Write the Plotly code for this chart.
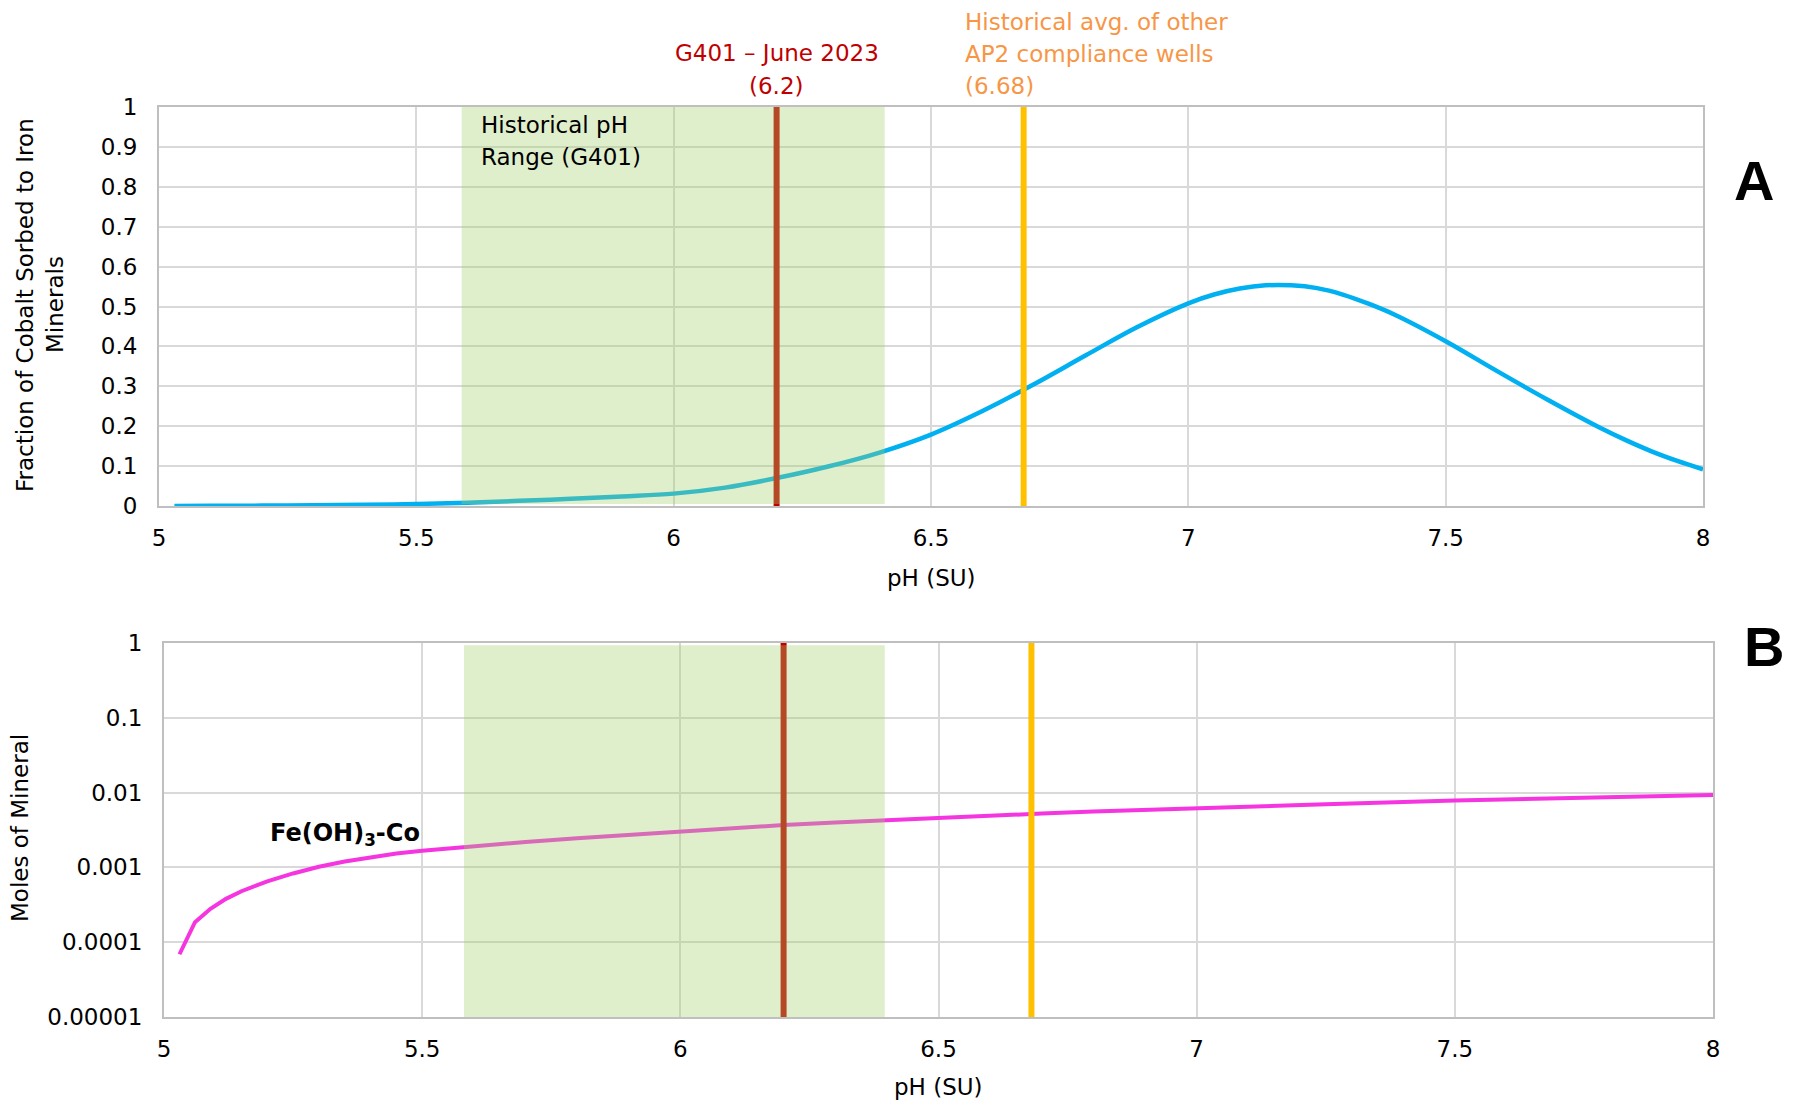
import plotly.graph_objects as go

# ---------------- data ----------------
ph_a = [5.03, 5.1, 5.2, 5.3, 5.4, 5.5, 5.6, 5.7, 5.8, 5.9, 6.0, 6.1, 6.2, 6.3, 6.4,
        6.5, 6.6, 6.7, 6.8, 6.9, 7.0, 7.05, 7.1, 7.15, 7.2, 7.25, 7.3, 7.35, 7.4, 7.5,
        7.6, 7.7, 7.8, 7.85, 7.9, 7.95, 8.0]
frac_sorbed = [0.0, 0.0005, 0.001, 0.002, 0.003, 0.005, 0.008, 0.013, 0.018, 0.024,
               0.031, 0.046, 0.07, 0.099, 0.134, 0.179, 0.238, 0.305, 0.377, 0.448,
               0.508, 0.53, 0.545, 0.553, 0.553, 0.546, 0.53, 0.507, 0.48, 0.413,
               0.338, 0.265, 0.196, 0.165, 0.137, 0.113, 0.092]

ph_b = [5.03, 5.06, 5.09, 5.12, 5.15, 5.2, 5.25, 5.3, 5.35, 5.4, 5.45, 5.5, 5.6, 5.7,
        5.8, 5.9, 6.0, 6.1, 6.2, 6.3, 6.4, 6.5, 6.6, 6.7, 6.8, 7.0, 7.25, 7.5, 7.75, 8.0]
moles_mineral = [6.9e-5, 1.85e-4, 2.8e-4, 3.8e-4, 4.8e-4, 6.5e-4, 8.3e-4, 1.02e-3, 1.2e-3,
                 1.36e-3, 1.53e-3, 1.67e-3, 1.93e-3, 2.19e-3, 2.45e-3, 2.72e-3, 3.0e-3,
                 3.33e-3, 3.68e-3, 3.97e-3, 4.28e-3, 4.6e-3, 4.92e-3, 5.25e-3, 5.57e-3,
                 6.2e-3, 7.0e-3, 7.83e-3, 8.55e-3, 9.3e-3]

hist_range_a = [5.588, 6.41]     # historical pH range (G401), as drawn in panel A
hist_range_b = [5.581, 6.396]    # same range, as drawn in panel B
g401_june = 6.2                  # G401 – June 2023
ap2_avg = 6.68                   # historical avg of other AP2 wells

x_ticks = [5, 5.5, 6, 6.5, 7, 7.5, 8]
y_ticks_a = [0, 0.1, 0.2, 0.3, 0.4, 0.5, 0.6, 0.7, 0.8, 0.9, 1]
y_ticks_b = [1e-5, 1e-4, 1e-3, 1e-2, 1e-1, 1]
y_ticktext_b = ["0.00001", "0.0001", "0.001", "0.01", "0.1", "1"]

# ---------------- figure ----------------
W, H = 1798, 1106
FONT = "DejaVu Sans"
FS = 23
GRID = "#d9d9d9"
AXIS = "#bfbfbf"

def px(xp):
    return xp / W

def py(yp):
    return 1 - yp / H

fig = go.Figure()
fig.add_trace(go.Scatter(x=ph_a, y=frac_sorbed, mode="lines",
                         line=dict(color="#00b0f0", width=4.5, shape="spline", smoothing=1.0),
                         xaxis="x", yaxis="y", showlegend=False))
fig.add_trace(go.Scatter(x=ph_b, y=moles_mineral, mode="lines", line=dict(color="#f535e0", width=4),
                         xaxis="x2", yaxis="y2", showlegend=False))

axis_common = dict(showgrid=True, gridcolor=GRID, gridwidth=2, zeroline=False, showline=True,
                   linecolor=AXIS, linewidth=2, mirror=True, ticks="", automargin=False,
                   tickfont=dict(family=FONT, size=FS, color="#000000"))

fig.update_layout(
    width=W, height=H, margin=dict(l=0, r=0, t=0, b=0, pad=0, autoexpand=False),
    paper_bgcolor="white", plot_bgcolor="white",
    xaxis=dict(domain=[px(159), px(1703)], anchor="y", range=[5, 8], tickvals=x_ticks,
               ticklabelstandoff=10, **axis_common),
    yaxis=dict(domain=[py(506), py(107)], anchor="x", range=[0, 1], tickvals=y_ticks_a,
               ticklabelstandoff=15, **axis_common),
    xaxis2=dict(domain=[px(164), px(1713)], anchor="y2", range=[5, 8], tickvals=x_ticks,
                ticklabelstandoff=10, **axis_common),
    yaxis2=dict(domain=[py(1017), py(643)], anchor="x2", type="log", range=[-5, 0],
                tickvals=y_ticks_b, ticktext=y_ticktext_b, ticklabelstandoff=15, **axis_common),
)

shapes = []
for xr, yr in (("x", "y domain"), ("x2", "y2 domain")):
    shapes.append(dict(type="line", xref=xr, yref=yr, x0=g401_june, x1=g401_june, y0=0, y1=1,
                       line=dict(color="#c00000", width=6), layer="above"))
    shapes.append(dict(type="line", xref=xr, yref=yr, x0=ap2_avg, x1=ap2_avg, y0=0, y1=1,
                       line=dict(color="#ffc000", width=6), layer="above"))
shapes.append(dict(type="rect", xref="x", yref="y domain", x0=hist_range_a[0], x1=hist_range_a[1],
                   y0=0.005, y1=1, fillcolor="rgba(164,209,106,0.35)", line=dict(width=0), layer="above"))
shapes.append(dict(type="rect", xref="x2", yref="y2 domain", x0=hist_range_b[0], x1=hist_range_b[1],
                   y0=0, y1=0.994, fillcolor="rgba(164,209,106,0.35)", line=dict(width=0), layer="above"))
fig.update_layout(shapes=shapes)

ann = []
def text(t, x, y, xref="paper", xanchor="center", yanchor="middle", size=FS, color="#000000",
         family=FONT, angle=0):
    ann.append(dict(text=t, x=x, y=y, xref=xref, yref="paper", xanchor=xanchor, yanchor=yanchor,
                    showarrow=False, textangle=angle, font=dict(family=family, size=size, color=color)))

# axis titles
text("pH (SU)", px(931), py(578))
text("pH (SU)", px(938), py(1087))
text("Fraction of Cobalt Sorbed to Iron", px(25), py(305), angle=-90)
text("Minerals", px(55), py(305), angle=-90)
text("Moles of Mineral", px(20), py(828), angle=-90)

# line labels
text("G401 – June 2023", g401_june, py(53), xref="x", color="#c00000")
text("(6.2)", g401_june, py(86), xref="x", color="#c00000")
for t, yy in (("Historical avg. of other", 22), ("AP2 compliance wells", 54), ("(6.68)", 86)):
    text(t, px(963), py(yy), xanchor="left", color="#f79646")
text("Historical pH", px(479), py(125), xanchor="left")
text("Range (G401)", px(479), py(157), xanchor="left")
text("<b>Fe(OH)<sub>3</sub>-Co</b>", px(268), py(834), xanchor="left", size=24)

# panel letters
text("<b>A</b>", px(1754), py(181), size=56, family="Liberation Sans, Arial")
text("<b>B</b>", px(1764), py(646), size=56, family="Liberation Sans, Arial")

fig.update_layout(annotations=ann)
fig.write_html("out.html")
